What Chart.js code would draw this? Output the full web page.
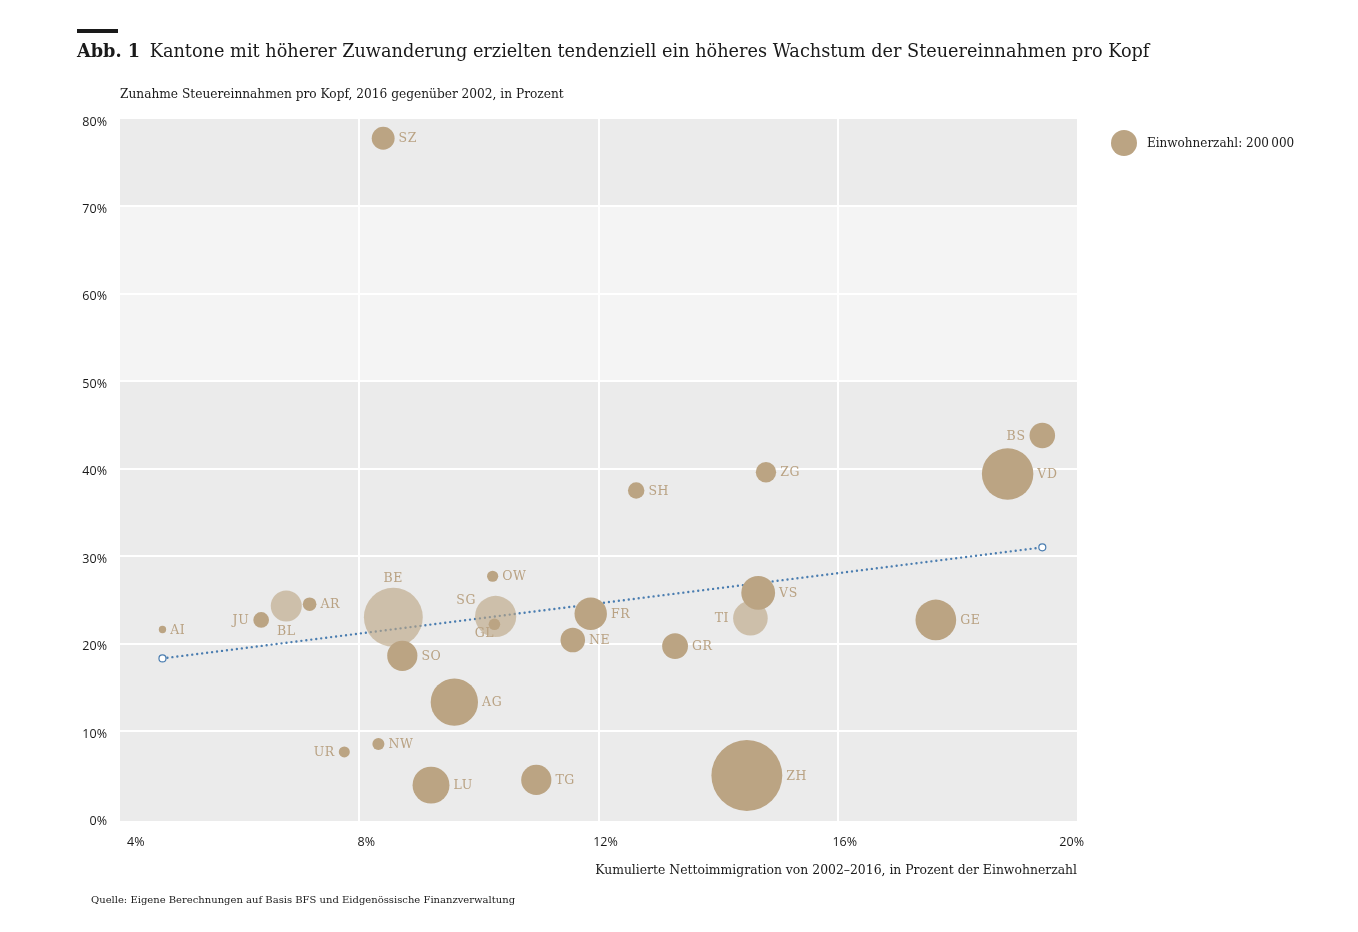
<!DOCTYPE html>
<html lang="de">
<head>
<meta charset="utf-8">
<title>Abb. 1 Steuereinnahmen und Zuwanderung</title>
<script src="https://cdn.jsdelivr.net/npm/chart.js@4.4.1/dist/chart.umd.min.js"></script>
<style>
  body { margin: 0; background: #fff; font-family: 'DejaVu Serif', serif; color: #1a1a1a; }
  #wrap { position: relative; width: 1358px; height: 932px; overflow: hidden; }
  #chart { position: absolute; left: 0; top: 0; }
  .bar { position: absolute; left: 77px; top: 29px; width: 41px; height: 4px; background: #1a1a1a; }
  #title { position: absolute; left: 77px; top: 40px; font-size: 17.7px; line-height: 22px; white-space: nowrap; }
  #title b { margin-right: 4px; }
  #subtitle { position: absolute; left: 120px; top: 86px; font-size: 12.2px; line-height: 16px; white-space: nowrap; }
  #source { position: absolute; left: 91px; top: 893px; font-size: 10px; line-height: 14px; white-space: nowrap; }
  #legend { position: absolute; left: 1111px; top: 130px; height: 26px; display: flex; align-items: center; font-size: 12px; white-space: nowrap; }
  #legend .dot { border-radius: 50%; background: #bba483; margin-right: 10px; }
</style>
</head>
<body>
<div id="wrap">
  <canvas id="chart" width="1358" height="932"></canvas>
  <div class="bar"></div>
  <div id="title"><b>Abb. 1</b> Kantone mit höherer Zuwanderung erzielten tendenziell ein höheres Wachstum der Steuereinnahmen pro Kopf</div>
  <div id="subtitle">Zunahme Steuereinnahmen pro Kopf, 2016 gegenüber 2002, in Prozent</div>
  <div id="legend"><span class="dot" id="legend-dot"></span><span>Einwohnerzahl: 200&#8239;000</span></div>
  <div id="source">Quelle: Eigene Berechnungen auf Basis BFS und Eidgenössische Finanzverwaltung</div>
</div>
<script>
'use strict';

// data
let cantons = ['AI', 'JU', 'BL', 'AR', 'UR', 'NW', 'SZ', 'BE', 'SO', 'LU', 'AG', 'OW', 'GL', 'SG',
  'TG', 'NE', 'FR', 'SH', 'GR', 'TI', 'VS', 'ZG', 'ZH', 'GE', 'VD', 'BS'];
let immigration = [4.71, 6.36, 6.78, 7.17, 7.75, 8.32, 8.40, 8.57, 8.72, 9.20, 9.59, 10.23, 10.26, 10.28,
  10.96, 11.57, 11.87, 12.63, 13.28, 14.54, 14.67, 14.80, 14.48, 17.64, 18.84, 19.42];
let taxGrowth = [21.6, 22.7, 24.3, 24.5, 7.6, 8.5, 77.8, 23.0, 18.6, 3.8, 13.3, 27.7, 22.2, 23.1,
  4.4, 20.4, 23.4, 37.5, 19.7, 22.9, 25.8, 39.6, 4.9, 22.7, 39.4, 43.8];
// Einwohner in Tausend
let population = [16, 73, 285, 55, 36, 43, 155, 1026, 270, 403, 663, 37, 40, 502,
  270, 179, 311, 80, 197, 354, 339, 123, 1487, 490, 784, 193];
let fadedCantons = ['BL', 'BE', 'SG', 'TI'];

let trendX = [4.71, 19.42];
let trendY = [18.3, 31.0];

let xTicks = [4, 8, 12, 16, 20];
let yTicks = [0, 10, 20, 30, 40, 50, 60, 70, 80];
let legendPopulation = 200;

const TAN = '#bba483';
const TAN_FADED = 'rgba(187, 164, 131, 0.62)';
const BLUE = '#4a7db0';

// bubble size: area proportional to population
function bubbleRadius(pop) {
  return 13 * Math.sqrt(pop / legendPopulation);
}

let labelSide = { JU: 'left', UR: 'left', TI: 'left', BS: 'left', BL: 'below', GL: 'belowLeft', BE: 'above', SG: 'aboveLeft' };

let bubbleData = [];
for (let i = 0; i < cantons.length; i++) {
  bubbleData.push({ x: immigration[i], y: taxGrowth[i], r: bubbleRadius(population[i]) });
}
let trendData = trendX.map((x, i) => ({ x: x, y: trendY[i] }));

let dot = document.getElementById('legend-dot');
let legendR = bubbleRadius(legendPopulation);
dot.style.width = (legendR * 2) + 'px';
dot.style.height = (legendR * 2) + 'px';

const bandsPlugin = {
  id: 'bands',
  beforeDraw(chart) {
    let { ctx, chartArea } = chart;
    let y = chart.scales.y;
    ctx.save();
    ctx.fillStyle = '#ebebeb';
    ctx.fillRect(chartArea.left, chartArea.top, chartArea.width, chartArea.height);
    ctx.fillStyle = '#f4f4f4';
    let top = y.getPixelForValue(70);
    let bottom = y.getPixelForValue(50);
    ctx.fillRect(chartArea.left, top, chartArea.width, bottom - top);
    ctx.restore();
  }
};

const labelPlugin = {
  id: 'cantonLabels',
  afterDatasetsDraw(chart) {
    let meta = chart.getDatasetMeta(0);
    let ctx = chart.ctx;
    ctx.save();
    ctx.font = '12.5px "DejaVu Serif"';
    ctx.letterSpacing = '0.6px';
    ctx.fillStyle = '#b9a283';
    meta.data.forEach((pt, i) => {
      let name = cantons[i];
      let r = pt.options.radius;
      let side = labelSide[name] || 'right';
      let x = pt.x;
      let y = pt.y + 1;
      ctx.textBaseline = 'middle';
      if (side === 'right') {
        ctx.textAlign = 'left';
        x += r + 4;
      } else if (side === 'left') {
        ctx.textAlign = 'right';
        x -= r + 4;
      } else if (side === 'above') {
        ctx.textAlign = 'center';
        y = pt.y - r - 9;
      } else if (side === 'below') {
        ctx.textAlign = 'center';
        y = pt.y + r + 10;
      } else if (side === 'aboveLeft') {
        ctx.textAlign = 'right';
        x -= r - 1;
        y = pt.y - r + 5;
      } else if (side === 'belowLeft') {
        ctx.textAlign = 'center';
        x -= 10;
        y = pt.y + r + 4;
      }
      ctx.fillText(name, x, y);
    });
    ctx.restore();
  }
};

function gridColor(edges) {
  return (c) => (c.tick && edges.includes(c.tick.value) ? 'rgba(0,0,0,0)' : '#ffffff');
}

new Chart(document.getElementById('chart'), {
  type: 'bubble',
  data: {
    datasets: [{
      label: 'Kantone',
      data: bubbleData,
      backgroundColor: cantons.map(c => fadedCantons.includes(c) ? TAN_FADED : TAN),
      borderWidth: 0,
      hoverBorderWidth: 0,
      clip: false,
      order: 1
    }, {
      type: 'line',
      label: 'Trend',
      data: trendData,
      borderColor: BLUE,
      borderWidth: 2.4,
      borderDash: [0, 5],
      borderCapStyle: 'round',
      pointRadius: 3.5,
      pointBackgroundColor: '#ffffff',
      pointBorderColor: BLUE,
      pointBorderWidth: 1.2,
      fill: false,
      order: 2
    }]
  },
  options: {
    responsive: false,
    animation: false,
    layout: { padding: { left: 60, right: 281, top: 119, bottom: 46 } },
    plugins: {
      legend: { display: false },
      tooltip: { enabled: false }
    },
    scales: {
      x: {
        type: 'linear',
        min: 4,
        max: 20,
        afterBuildTicks: (scale) => { scale.ticks = xTicks.map(v => ({ value: v })); },
        afterFit: (scale) => { scale.height = 65; },
        border: { display: false },
        grid: { color: gridColor([4, 20]), lineWidth: 2, drawTicks: false },
        ticks: {
          align: 'inner',
          labelOffset: 7,
          padding: 14,
          color: '#1a1a1a',
          font: { family: 'Open Sans', size: 12.5 },
          callback: (v) => v + '%'
        },
        title: {
          display: true,
          align: 'end',
          text: 'Kumulierte Nettoimmigration von 2002–2016, in Prozent der Einwohnerzahl',
          color: '#1a1a1a',
          font: { family: 'DejaVu Serif', size: 12.4 },
          padding: { top: 0, bottom: 8 }
        }
      },
      y: {
        type: 'linear',
        min: -0.3,
        max: 80,
        afterBuildTicks: (scale) => { scale.ticks = yTicks.map(v => ({ value: v })); },
        afterFit: (scale) => { scale.width = 60; },
        border: { display: false },
        grid: { color: gridColor([0, 80]), lineWidth: 2, drawTicks: false },
        ticks: {
          padding: 13,
          labelOffset: 3,
          color: '#1a1a1a',
          font: { family: 'Open Sans', size: 12.5 },
          callback: (v) => v + '%'
        }
      }
    }
  },
  plugins: [bandsPlugin, labelPlugin]
});
</script>
</body>
</html>
